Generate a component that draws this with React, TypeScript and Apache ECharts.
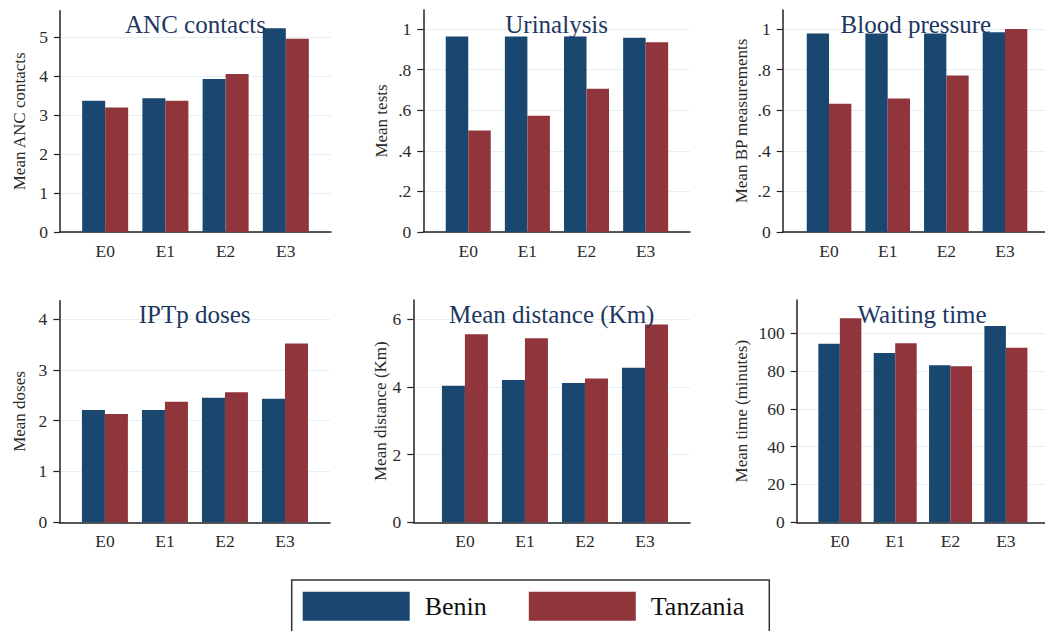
import React, { useEffect, useRef } from 'react';
import * as echarts from 'echarts';

// ---- data ----
const categories = ['E0', 'E1', 'E2', 'E3'];
const seriesNames = ['Benin', 'Tanzania'];

const ancBenin = [3.36, 3.43, 3.92, 5.22];
const ancTanzania = [3.19, 3.36, 4.05, 4.95];

const urineBenin = [0.962, 0.962, 0.962, 0.956];
const urineTanzania = [0.5, 0.572, 0.705, 0.934];

const bpBenin = [0.977, 0.977, 0.977, 0.983];
const bpTanzania = [0.632, 0.657, 0.77, 1.0];

const iptpBenin = [2.21, 2.21, 2.45, 2.43];
const iptpTanzania = [2.13, 2.37, 2.56, 3.52];

const distBenin = [4.03, 4.2, 4.11, 4.56];
const distTanzania = [5.55, 5.43, 4.24, 5.84];

const waitBenin = [94.5, 89.6, 83.1, 103.9];
const waitTanzania = [107.9, 94.7, 82.5, 92.4];

const ancTicks = [0, 1, 2, 3, 4, 5];
const propTicks = [0, 0.2, 0.4, 0.6, 0.8, 1];
const iptpTicks = [0, 1, 2, 3, 4];
const distTicks = [0, 2, 4, 6];
const waitTicks = [0, 20, 40, 60, 80, 100];

const titles = ['ANC contacts', 'Urinalysis', 'Blood pressure', 'IPTp doses', 'Mean distance (Km)', 'Waiting time'];
const yNames = ['Mean ANC contacts', 'Mean tests', 'Mean BP measurements', 'Mean doses', 'Mean distance (Km)', 'Mean time (minutes)'];

const panelData = [
  [ancBenin, ancTanzania],
  [urineBenin, urineTanzania],
  [bpBenin, bpTanzania],
  [iptpBenin, iptpTanzania],
  [distBenin, distTanzania],
  [waitBenin, waitTanzania],
];
const panelTicks = [ancTicks, propTicks, propTicks, iptpTicks, distTicks, waitTicks];
const panelMax = [5.67, 1.093, 1.093, 4.36, 6.56, 117.6];

// ---- layout (pixels) ----
const layout = [
  { left: 60, right: 331, top: 10.7, base: 232, xmin: -0.75, xmax: 3.75, barW: 23, nameDist: 40 },
  { left: 423.3, right: 690, top: 10, base: 232, xmin: -0.76, xmax: 3.75, barW: 22.5, nameDist: 41.6 },
  { left: 782.7, right: 1049, top: 10, base: 232, xmin: -0.79, xmax: 3.75, barW: 22.3, nameDist: 41 },
  { left: 59.3, right: 330, top: 300.7, base: 522.3, xmin: -0.76, xmax: 3.75, barW: 23, nameDist: 39.3 },
  { left: 413.3, right: 690, top: 300, base: 522.3, xmin: -0.86, xmax: 3.75, barW: 23, nameDist: 31.6 },
  { left: 796.7, right: 1047.4, top: 300, base: 522.3, xmin: -0.78, xmax: 3.75, barW: 21.5, nameDist: 55 },
];

const COLORS = ['#1a476f', '#90353b'];
const FONT = 'Liberation Serif';
const AXIS_COLOR = '#222';
const TEXT_COLOR = '#2a2a2a';

function fmtTick(v: number): string {
  const r = Number(v.toFixed(4));
  if (r === 0) return '0';
  if (r > 0 && r < 1) return String(r).replace(/^0/, '');
  return String(r);
}

export default function App() {
  const ref = useRef<HTMLDivElement>(null);

  useEffect(() => {
    if (!ref.current) return;
    const chart = echarts.init(ref.current, null, { renderer: 'svg' });

    const grids: any[] = [];
    const xAxes: any[] = [];
    const yAxes: any[] = [];
    const series: any[] = [];
    const graphics: any[] = [];

    layout.forEach((L, i) => {
      grids.push({
        left: L.left,
        top: L.top,
        width: L.right - L.left,
        height: L.base - L.top,
        containLabel: false,
        outerBoundsMode: 'none',
      });
      xAxes.push({
        type: 'value',
        gridIndex: i,
        min: L.xmin,
        max: L.xmax,
        axisLine: { show: true, onZero: false, lineStyle: { color: AXIS_COLOR, width: 1.5 } },
        axisTick: { show: false, customValues: [0, 1, 2, 3] },
        splitLine: { show: false },
        axisLabel: {
          customValues: [0, 1, 2, 3],
          formatter: (v: number) => categories[Math.round(v)] ?? '',
          margin: 10,
          fontSize: 17.5,
          fontFamily: FONT,
          color: TEXT_COLOR,
        },
      });
      const ticks = panelTicks[i];
      yAxes.push({
        type: 'value',
        gridIndex: i,
        min: 0,
        max: panelMax[i],
        name: yNames[i],
        nameLocation: 'middle',
        nameRotate: 90,
        nameGap: L.nameDist - 8,
        nameTextStyle: { fontSize: 17, fontFamily: FONT, color: TEXT_COLOR },
        axisLine: { show: true, onZero: false, lineStyle: { color: AXIS_COLOR, width: 1.5 } },
        axisTick: { show: true, length: 6, customValues: ticks, lineStyle: { color: AXIS_COLOR, width: 1.2 } },
        splitLine: { show: true, lineStyle: { color: '#e6eff2', width: 1 } },
        axisLabel: {
          customValues: ticks,
          formatter: (v: number) => fmtTick(v),
          margin: 12,
          fontSize: 17.5,
          fontFamily: FONT,
          color: TEXT_COLOR,
        },
      });
      panelData[i].forEach((vals, s) => {
        series.push({
          type: 'bar',
          name: seriesNames[s],
          xAxisIndex: i,
          yAxisIndex: i,
          barWidth: L.barW,
          barGap: '0%',
          itemStyle: { color: COLORS[s] },
          data: vals.map((v, k) => [k, v]),
        });
      });
      graphics.push({
        type: 'text',
        x: (L.left + L.right) / 2,
        y: L.top < 100 ? 24.5 : 314.5,
        z: 100,
        style: {
          text: titles[i],
          align: 'center',
          verticalAlign: 'middle',
          font: `25px ${FONT}`,
          fill: '#1e3760',
        },
      });
    });

    // legend frame
    graphics.push({
      type: 'rect',
      shape: { x: 291.7, y: 580, width: 477.6, height: 80 },
      z: 100,
      style: { fill: 'none', stroke: '#333', lineWidth: 1.5 },
    });

    chart.setOption({
      animation: false,
      backgroundColor: '#ffffff',
      grid: grids,
      xAxis: xAxes,
      yAxis: yAxes,
      series,
      legend: {
        data: seriesNames,
        left: 302.7,
        top: 591.7,
        padding: 0,
        itemWidth: 107,
        itemHeight: 29,
        itemGap: 42,
        icon: 'rect',
        textStyle: { fontSize: 26, fontFamily: FONT, color: '#111', padding: [0, 0, 0, 10] },
      },
      graphic: graphics,
    });

    return () => chart.dispose();
  }, []);

  return (
    <div
      ref={ref}
      style={{ position: 'fixed', left: 0, top: 0, width: 1045, height: 631, background: '#fff' }}
    />
  );
}
